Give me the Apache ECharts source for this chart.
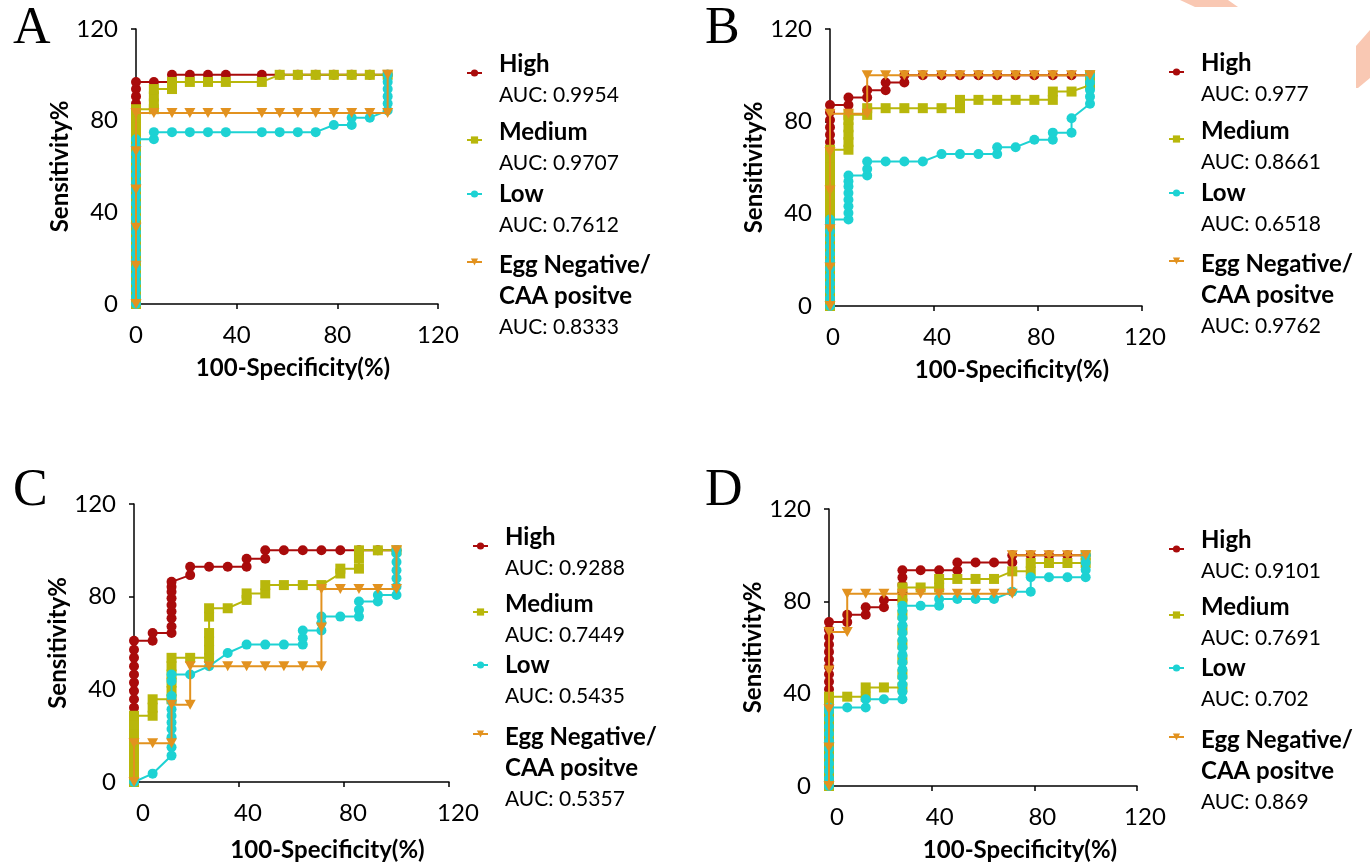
<!DOCTYPE html>
<html>
<head>
<meta charset="utf-8">
<script src="https://cdn.jsdelivr.net/npm/echarts@6/dist/echarts.min.js"></script>
<style>
html, body { margin: 0; padding: 0; background: #fff; }
#chart { width: 1370px; height: 863px; }
</style>
</head>
<body>
<div id="chart"></div>
<script>
// ROC points [100-Specificity, Sensitivity]
var highA = [[0,81.3],[0,84.4],[0,87.5],[0,90.6],[0,93.8],[0,96.9],[7.1,96.9],[14.3,96.9],[14.3,100],[21.4,100],[28.6,100],[35.7,100],[50,100],[57.1,100],[64.3,100],[71.4,100],[78.6,100],[85.7,100],[92.9,100],[100,100]];
var mediumA = [[0,0],[0,3.1],[0,6.3],[0,9.4],[0,12.5],[0,15.6],[0,18.8],[0,21.9],[0,25],[0,28.1],[0,31.3],[0,34.4],[0,37.5],[0,40.6],[0,43.8],[0,46.9],[0,50],[0,53.1],[0,56.3],[0,59.4],[0,62.5],[0,65.6],[0,68.8],[0,71.9],[0,75],[0,78.1],[0,81.3],[0,85],[7.1,85],[7.1,87.5],[7.1,90.6],[7.1,93.8],[14.3,93.8],[14.3,96.9],[21.4,96.9],[28.6,96.9],[35.7,96.9],[50,96.9],[57.1,100],[64.3,100],[71.4,100],[78.6,100],[85.7,100],[92.9,100],[100,100]];
var lowA = [[0,0],[0,3.1],[0,6.3],[0,9.4],[0,12.5],[0,15.6],[0,18.8],[0,21.9],[0,25],[0,28.1],[0,31.3],[0,34.4],[0,37.5],[0,40.6],[0,43.8],[0,46.9],[0,50],[0,53.1],[0,56.3],[0,59.4],[0,62.5],[0,65.6],[0,68.8],[0,71.9],[7.1,71.9],[7.1,75],[14.3,75],[21.4,75],[28.6,75],[35.7,75],[50,75],[57.1,75],[64.3,75],[71.4,75],[78.6,78.1],[85.7,78.1],[85.7,81.3],[92.9,81.3],[100,84.4],[100,87.5],[100,90.6],[100,93.8],[100,96.9],[100,100]];
var eggA = [[0,0],[0,16.7],[0,33.3],[0,50],[0,66.7],[0,83.3],[7.1,83.3],[14.3,83.3],[21.4,83.3],[28.6,83.3],[35.7,83.3],[50,83.3],[57.1,83.3],[64.3,83.3],[71.4,83.3],[78.6,83.3],[85.7,83.3],[92.9,83.3],[100,83.3],[100,100]];

var highB = [[0,67.7],[0,71],[0,74.2],[0,77.4],[0,80.6],[0,83.9],[0,87.1],[7.1,87.1],[7.1,90.3],[14.3,90.3],[14.3,93.5],[21.4,93.5],[21.4,96.8],[28.6,96.8],[28.6,100],[35.7,100],[42.9,100],[50,100],[57.1,100],[64.3,100],[71.4,100],[78.6,100],[85.7,100],[92.9,100],[100,100]];
var mediumB = [[0,0],[0,3.2],[0,6.5],[0,9.7],[0,12.9],[0,16.1],[0,19.4],[0,22.6],[0,25.8],[0,29],[0,32.3],[0,35.5],[0,38.7],[0,41.9],[0,45.2],[0,48.4],[0,51.6],[0,54.8],[0,58.1],[0,61.3],[0,64.5],[0,67.7],[7.1,67.7],[7.1,71],[7.1,74.2],[7.1,77.4],[7.1,80.6],[7.1,82.8],[14.3,82.8],[14.3,85.7],[21.4,85.7],[28.6,85.7],[35.7,85.7],[42.9,85.7],[50,85.7],[50,89.3],[57.1,89.3],[64.3,89.3],[71.4,89.3],[78.6,89.3],[85.7,89.3],[85.7,92.9],[92.9,92.9],[100,95.7],[100,100]];
var lowB = [[0,0],[0,3.2],[0,6.5],[0,9.7],[0,12.9],[0,16.1],[0,19.4],[0,22.6],[0,25.8],[0,29],[0,32.3],[0,35.5],[0,37.5],[7.1,37.5],[7.1,40.3],[7.1,43.2],[7.1,46],[7.1,48.9],[7.1,51.8],[7.1,54],[7.1,56.5],[14.3,56.5],[14.3,59.3],[14.3,62.6],[21.4,62.6],[28.6,62.6],[35.7,62.6],[42.9,65.8],[50,65.8],[57.1,65.8],[64.3,65.8],[64.3,68.8],[71.4,68.8],[78.6,72],[85.7,72],[85.7,75.1],[92.9,75.1],[92.9,81.3],[100,87.6],[100,90.7],[100,93.6],[100,96.8],[100,100]];
var eggB = [[0,0],[0,16.7],[0,33.3],[0,50],[0,66.7],[0,83.3],[7.1,83.3],[14.3,83.3],[14.3,100],[21.4,100],[28.6,100],[35.7,100],[42.9,100],[50,100],[57.1,100],[64.3,100],[71.4,100],[78.6,100],[85.7,100],[92.9,100],[100,100]];

var highC = [[0,32.1],[0,35.7],[0,39.3],[0,42.9],[0,46.4],[0,50],[0,53.6],[0,57.1],[0,61],[7.1,61],[7.1,64.3],[14.3,64.3],[14.3,67.1],[14.3,70.7],[14.3,73.6],[14.3,76.4],[14.3,79.3],[14.3,82.1],[14.3,84.3],[14.3,86.4],[21.4,89.3],[21.4,92.9],[28.6,92.9],[35.7,92.9],[42.9,92.9],[42.9,96.4],[50,96.4],[50,100],[57.1,100],[64.3,100],[71.4,100],[78.6,100],[85.7,100],[92.9,100],[100,100]];
var mediumC = [[0,0],[0,3.6],[0,7.1],[0,10.7],[0,14.3],[0,17.9],[0,21.4],[0,25],[0,28.6],[7.1,28.6],[7.1,32.1],[7.1,35.7],[14.3,35.7],[14.3,39.3],[14.3,42.9],[14.3,46.4],[14.3,50],[14.3,53.6],[21.4,53.6],[28.6,53.6],[28.6,57.1],[28.6,60.7],[28.6,64.3],[28.6,71.4],[28.6,75],[35.7,75],[42.9,78.6],[42.9,81.4],[50,81.4],[50,85],[57.1,85],[64.3,85],[71.4,85],[78.6,90],[78.6,92.1],[85.7,92.1],[85.7,96.4],[85.7,100],[92.9,100],[100,100]];
var lowC = [[0,0],[7.1,3.6],[14.3,11.4],[14.3,15],[14.3,19.3],[14.3,22.9],[14.3,25.7],[14.3,28.6],[14.3,31.4],[14.3,35],[14.3,37.1],[14.3,43.6],[14.3,46.4],[21.4,46.4],[28.6,50],[35.7,55.7],[42.9,59.3],[50,59.3],[57.1,59.3],[64.3,59.3],[64.3,62.1],[64.3,65.4],[71.4,65.4],[71.4,68.6],[71.4,71.4],[78.6,71.4],[85.7,71.4],[85.7,74.3],[85.7,77.9],[92.9,77.9],[92.9,80.7],[100,80.7],[100,84.3],[100,87.9],[100,91.4],[100,95],[100,98.6],[100,100]];
var eggC = [[0,0],[0,16.7],[7.1,16.7],[14.3,16.7],[14.3,33.3],[21.4,33.3],[21.4,50],[28.6,50],[35.7,50],[42.9,50],[50,50],[57.1,50],[64.3,50],[71.4,50],[71.4,66.7],[71.4,83.3],[78.6,83.3],[85.7,83.3],[92.9,83.3],[100,83.3],[100,100]];

var highD = [[0,41.9],[0,45.2],[0,48.4],[0,51.6],[0,54.8],[0,58.1],[0,61.3],[0,64.5],[0,67.7],[0,71],[7.1,71],[7.1,74.2],[14.3,74.2],[14.3,77.4],[21.4,77.4],[21.4,80.6],[28.6,80.6],[28.6,83.9],[28.6,87.1],[28.6,90.3],[28.6,93.5],[35.7,93.5],[42.9,93.5],[50,93.5],[50,96.8],[57.1,96.8],[64.3,96.8],[71.4,96.8],[71.4,100],[78.6,100],[85.7,100],[92.9,100],[100,100]];
var mediumD = [[0,0],[0,3.2],[0,6.5],[0,9.7],[0,12.9],[0,16.1],[0,19.4],[0,22.6],[0,25.8],[0,29],[0,32.3],[0,35.5],[0,38.7],[7.1,38.7],[14.3,38.7],[14.3,42.7],[21.4,42.7],[28.6,42.7],[28.6,48.4],[28.6,54.8],[28.6,61.3],[28.6,67.7],[28.6,74.2],[28.6,80.6],[28.6,86],[35.7,86],[42.9,86],[42.9,89.7],[50,89.7],[57.1,89.7],[64.3,89.7],[71.4,93],[78.6,93],[78.6,96.6],[85.7,96.6],[92.9,96.6],[100,96.6],[100,100]];
var lowD = [[0,0],[0,3.2],[0,6.5],[0,9.7],[0,12.9],[0,16.1],[0,19.4],[0,22.6],[0,25.8],[0,29],[0,32.3],[0,34],[7.1,34],[14.3,34],[14.3,37.6],[21.4,37.6],[28.6,37.6],[28.6,40.8],[28.6,44],[28.6,47.2],[28.6,50.4],[28.6,53.6],[28.6,56.8],[28.6,60],[28.6,63.2],[28.6,66.4],[28.6,69.6],[28.6,72.8],[28.6,76],[28.6,78.1],[35.7,78.1],[42.9,78.1],[42.9,81],[50,81],[57.1,81],[64.3,81],[71.4,84.2],[78.6,84.2],[78.6,90.4],[85.7,90.4],[92.9,90.4],[100,90.4],[100,93.6],[100,96.8],[100,100]];
var eggD = [[0,0],[0,16.7],[0,33.3],[0,50],[0,66.7],[7.1,66.7],[7.1,83.3],[14.3,83.3],[21.4,83.3],[28.6,83.3],[35.7,83.3],[42.9,83.3],[50,83.3],[57.1,83.3],[64.3,83.3],[71.4,83.3],[71.4,100],[78.6,100],[85.7,100],[92.9,100],[100,100]];

var groupNames = ['High', 'Medium', 'Low', 'Egg Negative/'];
var groupNames2 = ['', '', '', 'CAA positve'];
var aucA = ['0.9954', '0.9707', '0.7612', '0.8333'];
var aucB = ['0.977', '0.8661', '0.6518', '0.9762'];
var aucC = ['0.9288', '0.7449', '0.5435', '0.5357'];
var aucD = ['0.9101', '0.7691', '0.702', '0.869'];

var colors = ['#a90b0b', '#b8b70b', '#1dd2d3', '#e2921f'];
var symbols = ['circle', 'rect', 'circle', 'path://M0,0 L10,0 L5,9 Z'];
var iconDrop = [9, 8, 0, -3];

var panels = [
  { id: 'A', data: [highA, mediumA, lowA, eggA], auc: aucA, grid: { left: 136, top: 29, width: 302, height: 275 },
    legendX: 466, legendY: [64, 132, 194, 265], nameShift: 6, nameGap: 52, labelShift: 0, letter: [13, 47] },
  { id: 'B', data: [highB, mediumB, lowB, eggB], auc: aucB, grid: { left: 830, top: 29, width: 312, height: 277 },
    legendX: 1168, legendY: [63, 131, 193, 264], nameShift: 26, nameGap: 52, labelShift: 3, letter: [705, 47] },
  { id: 'C', data: [highC, mediumC, lowC, eggC], auc: aucC, grid: { left: 134, top: 504, width: 315, height: 279 },
    legendX: 472, legendY: [537, 604, 665, 737], nameShift: 36, nameGap: 56, labelShift: 9, letter: [13, 509] },
  { id: 'D', data: [highD, mediumD, lowD, eggD], auc: aucD, grid: { left: 829, top: 509, width: 308, height: 278 },
    legendX: 1168, legendY: [540, 607, 668, 740], nameShift: 37, nameGap: 52, labelShift: 8, letter: [705, 509] }
];

var chart = echarts.init(document.getElementById('chart'));
var grids = [], xAxes = [], yAxes = [], series = [], legends = [], graphics = [];
var axisColor = '#000';

panels.forEach(function (p, i) {
  grids.push(p.grid);
  xAxes.push({
    type: 'value', gridIndex: i, min: 0, max: 120, interval: 40,
    axisLine: { onZero: false, lineStyle: { color: axisColor, width: 1.5 } },
    axisTick: { length: 5, lineStyle: { color: axisColor, width: 1.5 } },
    axisLabel: { margin: 19, fontSize: 24, color: '#000', fontFamily: 'Lato', padding: [0, 0, 0, 2 * p.labelShift] },
    splitLine: { show: false },
    name: '100-Specificity(%)', nameLocation: 'middle', nameGap: p.nameGap,
    nameTextStyle: { fontFamily: 'Lato', fontWeight: 'bold', fontSize: 24, color: '#000', padding: [0, 0, 0, 2 * p.nameShift] }
  });
  yAxes.push({
    type: 'value', gridIndex: i, min: 0, max: 120, interval: 40,
    axisLine: { onZero: false, lineStyle: { color: axisColor, width: 1.5 } },
    axisTick: { length: 5, lineStyle: { color: axisColor, width: 1.5 } },
    axisLabel: { margin: 18, fontSize: 24, color: '#000', fontFamily: 'Lato' },
    splitLine: { show: false },
    name: 'Sensitivity%', nameLocation: 'middle', nameGap: 59, nameRotate: 90,
    nameTextStyle: { fontFamily: 'Lato', fontWeight: 'bold', fontSize: 24, color: '#000' }
  });

  p.data.forEach(function (pts, k) {
    var sname = p.id + '|' + groupNames[k];
    series.push({
      type: 'line', name: sname, xAxisIndex: i, yAxisIndex: i, data: pts,
      symbol: symbols[k], symbolSize: k === 3 ? [11, 10] : 10, showSymbol: true, clip: false,
      lineStyle: { color: colors[k], width: 2 },
      itemStyle: { color: colors[k] },
      emphasis: { disabled: true }, animation: false, z: 2 + k
    });

    var lines = ['{t|' + groupNames[k] + '}'];
    if (groupNames2[k]) lines.push('{t|' + groupNames2[k] + '}');
    lines.push('{a|AUC: ' + p.auc[k] + '}');
    var txt = lines.join('\n');
    var padTop = (lines.length - 1) * 31 - 2 * iconDrop[k];
    legends.push({
      left: p.legendX, top: p.legendY[k] - 12, padding: 0, orient: 'vertical',
      itemWidth: 15, itemHeight: 9, selectedMode: false,
      data: [sname],
      formatter: function () { return txt; },
      textStyle: {
        padding: [padTop, 0, 0, 12],
        rich: {
          t: { fontFamily: 'Lato', fontWeight: 'bold', fontSize: 24, lineHeight: 31, color: '#000' },
          a: { fontFamily: 'Lato', fontSize: 21, lineHeight: 31, color: '#000' }
        }
      }
    });
  });

  graphics.push({
    type: 'text', left: p.letter[0], top: p.letter[1] - 44,
    style: { text: p.id, font: '52px "Liberation Serif"', fill: '#000' }
  });
});

// decorative salmon shapes at the top right corner
graphics.push({ type: 'polygon', shape: { points: [[1180, 0], [1228, 0], [1238, 7], [1195, 7]] }, style: { fill: '#f9c8b3' } });
graphics.push({ type: 'polygon', shape: { points: [[1356, 46], [1370, 30], [1370, 78], [1358, 88], [1356, 88]] }, style: { fill: '#f9c8b3' } });

chart.setOption({
  backgroundColor: '#fff',
  animation: false,
  grid: grids,
  xAxis: xAxes,
  yAxis: yAxes,
  legend: legends,
  series: series,
  graphic: graphics
});
</script>
</body>
</html>
